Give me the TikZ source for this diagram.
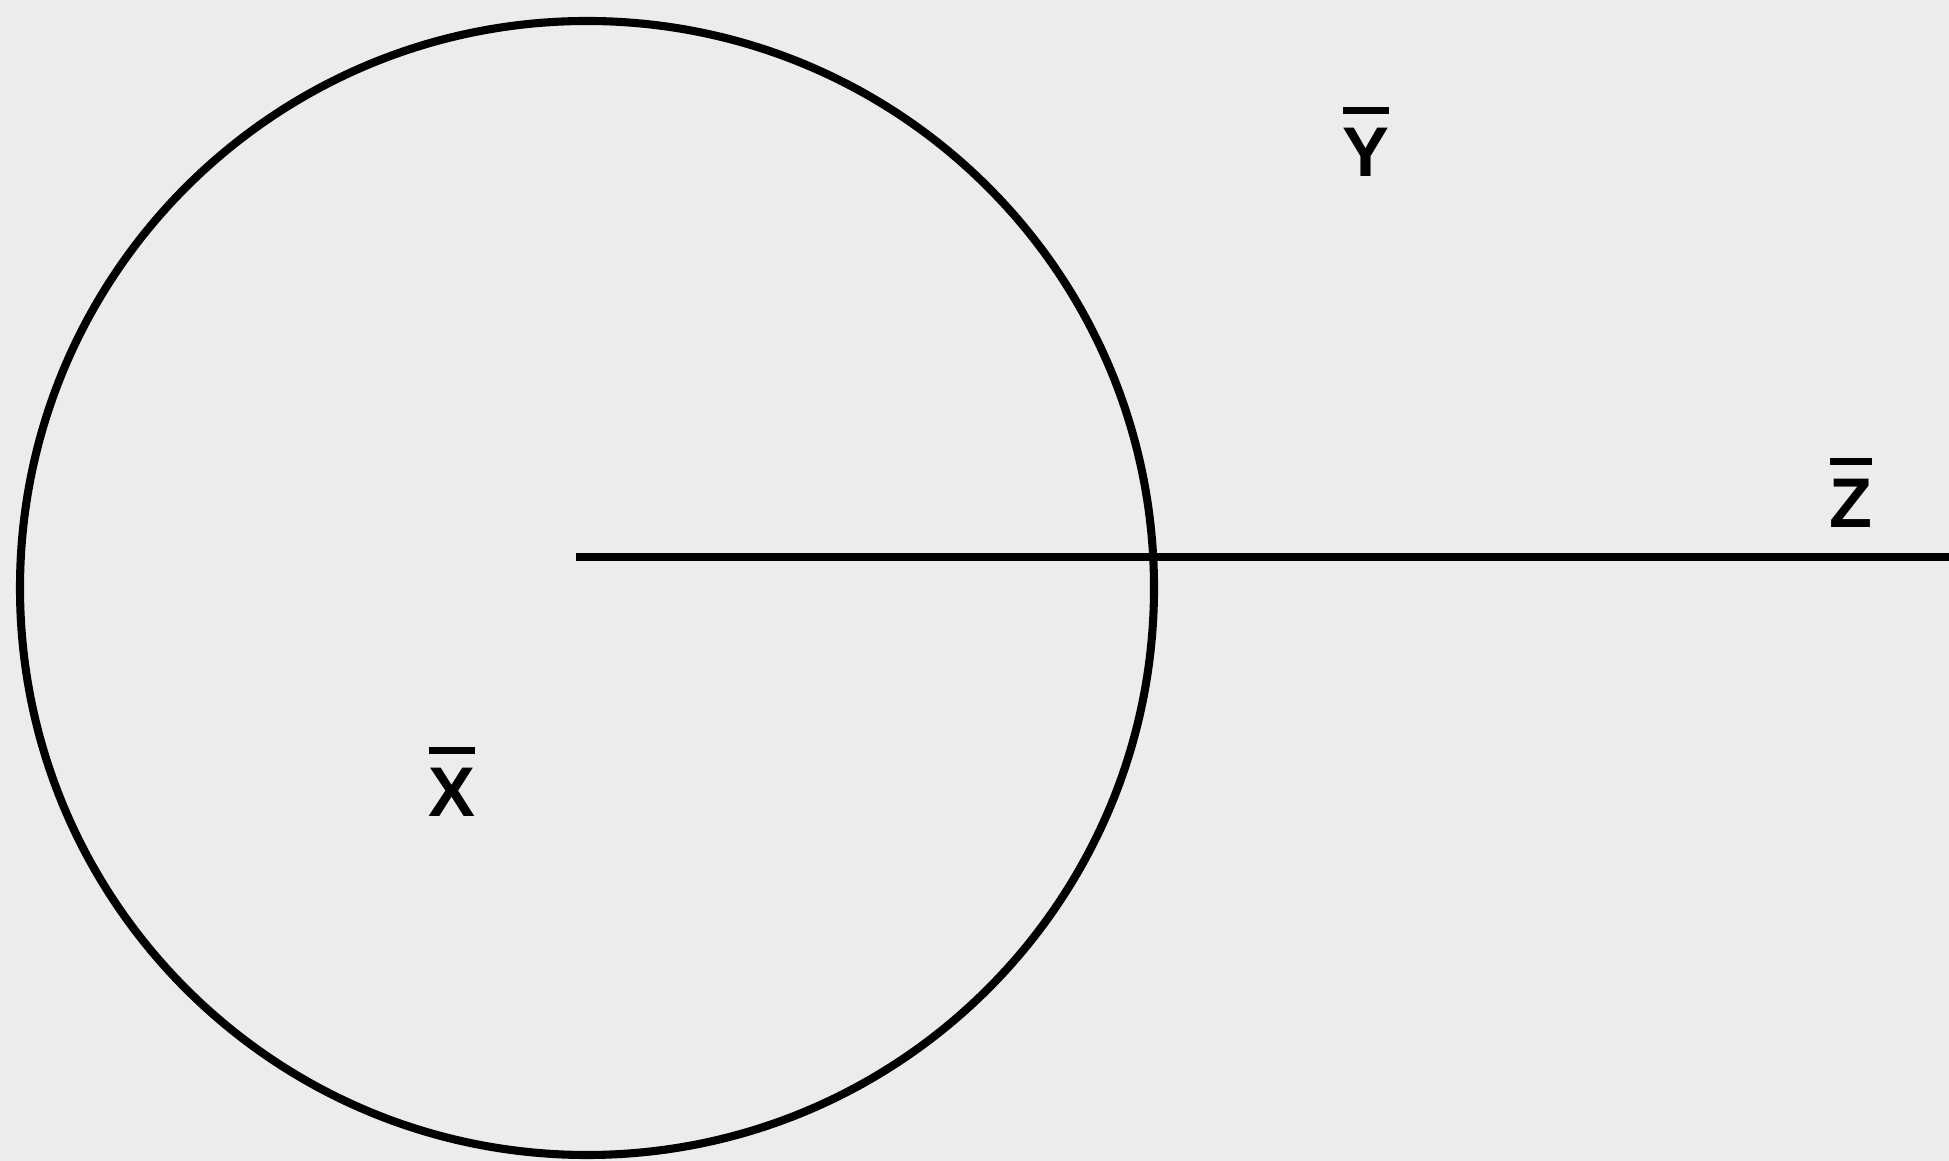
\documentclass[tikz,border=0pt]{standalone}
\usepackage{fontspec}
\setmainfont{Liberation Sans}
\usepackage{xcolor}
\usepackage{tikz}
\usetikzlibrary{calc,positioning}
\definecolor{pageGrey}{HTML}{ECECEC}
% letter with a bar over it
\newcommand{\setbar}[1]{\sbox0{#1}\rlap{\raisebox{\dimexpr\ht0+4.2pt\relax}{\rule{\wd0}{2pt}}}\box0}

\begin{document}
\begin{tikzpicture}[
    setline/.style={draw=black, line width=2.3pt},
    setname/.style={inner sep=0pt, anchor=base, font=\fontsize{20}{24}\selectfont\bfseries}
]
% Page
\fill[pageGrey] (0,0) rectangle (19.49,11.61);
\useasboundingbox (0,0) rectangle (19.49,11.61);
% Nodes
\node[setline, circle, minimum size=11.34cm, inner sep=0pt] (xset) at (5.87,5.73) {};
\coordinate (zstart) at (5.76,6.04);
\coordinate (zend) at (19.49,6.04);
\node[setname] (xlab) at (4.52,3.44) {\setbar{X}};
\node[setname] (ylab) at (13.66,9.84) {\setbar{Y}};
\node[setname] (zlab) at (18.51,6.33) {\setbar{Z}};
% Lines
\draw[setline, line width=2.5pt] (zstart) -- (zend);
\end{tikzpicture}
\end{document}
